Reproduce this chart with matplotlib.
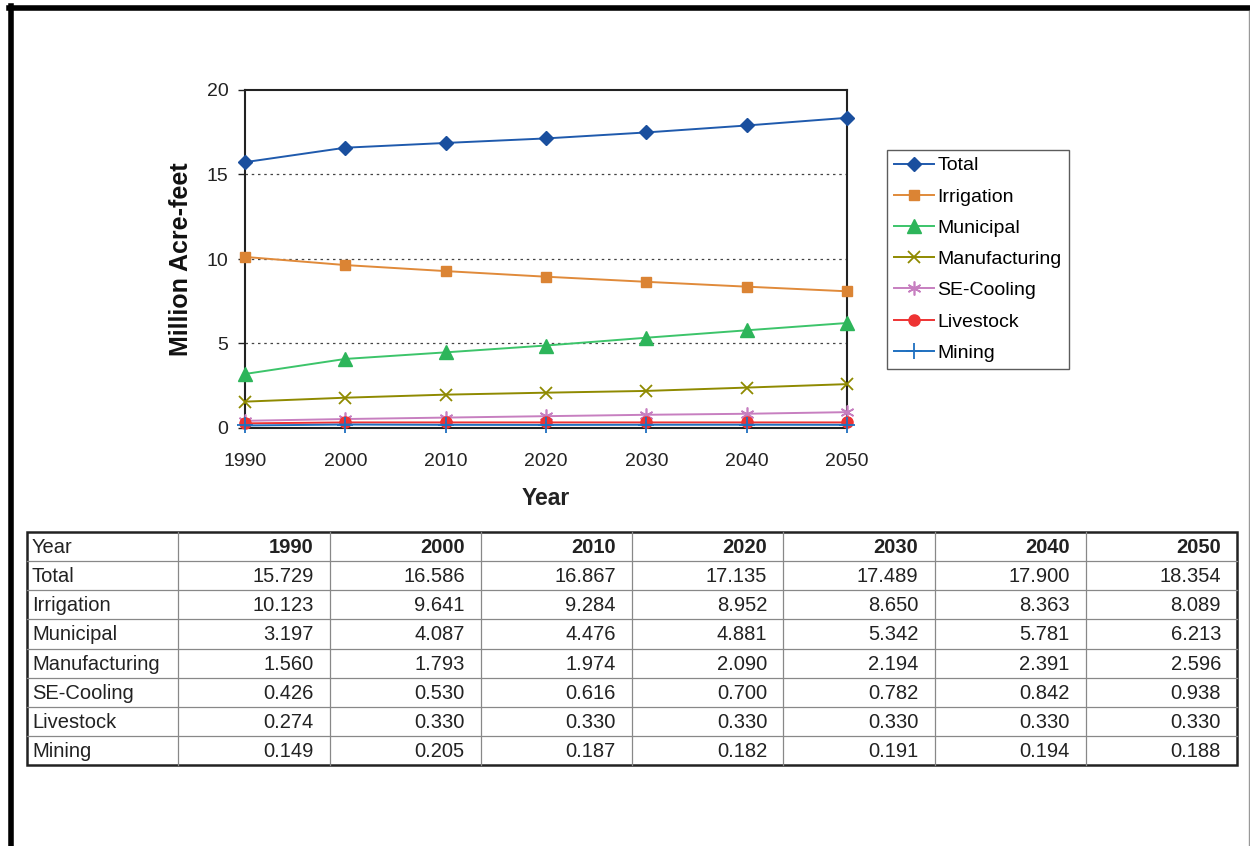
import matplotlib
matplotlib.use("Agg")
import matplotlib.pyplot as plt
from matplotlib.lines import Line2D
from matplotlib.patches import Rectangle

plt.rcParams['font.family'] = ['Liberation Sans', 'DejaVu Sans']

years = [1990, 2000, 2010, 2020, 2030, 2040, 2050]
total = [15.729, 16.586, 16.867, 17.135, 17.489, 17.900, 18.354]
irrigation = [10.123, 9.641, 9.284, 8.952, 8.650, 8.363, 8.089]
municipal = [3.197, 4.087, 4.476, 4.881, 5.342, 5.781, 6.213]
manufacturing = [1.560, 1.793, 1.974, 2.090, 2.194, 2.391, 2.596]
se_cooling = [0.426, 0.530, 0.616, 0.700, 0.782, 0.842, 0.938]
livestock = [0.274, 0.330, 0.330, 0.330, 0.330, 0.330, 0.330]
mining = [0.149, 0.205, 0.187, 0.182, 0.191, 0.194, 0.188]

series_names = ["Total", "Irrigation", "Municipal", "Manufacturing", "SE-Cooling", "Livestock", "Mining"]
series_values = [total, irrigation, municipal, manufacturing, se_cooling, livestock, mining]

W, H = 1250, 846
fig = plt.figure(figsize=(W / 100, H / 100), dpi=100)

def fx(px):
    return px / W

def fy(py):
    return 1 - py / H

# frame lines
fig.add_artist(Line2D([fx(9), fx(1250)], [fy(8.5), fy(8.5)], color='black', lw=4))
fig.add_artist(Line2D([fx(11), fx(11)], [fy(6.5), fy(846)], color='black', lw=4))
fig.add_artist(Line2D([fx(1249), fx(1249)], [fy(11), fy(846)], color='#999999', lw=1))

ax = fig.add_axes([fx(245), fy(428), fx(847) - fx(245), fy(90) - fy(428)])

styles = [
    dict(color='#1f5aad', marker='D', mfc='#1a4f9e', mec='#1a4f9e', ms=7.5),
    dict(color='#e08a3a', marker='s', mfc='#db8434', mec='#db8434', ms=7),
    dict(color='#3cc46a', marker='^', mfc='#2db55a', mec='#2db55a', ms=10),
    dict(color='#8f8a00', marker='x', mfc='#8f8a00', mec='#8f8a00', ms=9, mew=1.3),
    dict(color='#c77fc0', marker=(6, 2, 0), mfc='#c77fc0', mec='#c77fc0', ms=10, mew=1.2),
    dict(color='#ee3333', marker='o', mfc='#ee3333', mec='#ee3333', ms=8),
    dict(color='#1f70c0', marker='+', mfc='#1f70c0', mec='#1f70c0', ms=12, mew=1.3),
]

for name, vals, st in zip(series_names, series_values, styles):
    ax.plot(years, vals, label=name, lw=1.4, clip_on=False, zorder=3, **st)

ax.set_xlim(1990, 2050)
ax.set_ylim(0, 20)
ax.set_xticks(years)
ax.set_yticks([0, 5, 10, 15, 20])
for yv in [5, 10, 15]:
    ax.axhline(yv, color='#444444', lw=0.9, ls=(0, (2, 3)), zorder=1)
for sp in ax.spines.values():
    sp.set_linewidth(1.5)
    sp.set_color('#222222')
ax.tick_params(axis='y', labelsize=14, colors='#222222', width=1, length=5, direction='out', pad=7)
ax.tick_params(axis='x', labelsize=14, colors='#222222', length=0, pad=18)
ax.set_xlabel("Year", fontsize=16.5, fontweight='bold', labelpad=12, color='#222222')
ax.set_ylabel("Million Acre-feet", fontsize=18, fontweight='bold', labelpad=10, color='#111111')

leg = fig.legend(loc='upper left', bbox_to_anchor=(fx(887), fy(150)), frameon=True,
                 fontsize=14, handlelength=2.05, handletextpad=0.2, labelspacing=0.7,
                 borderpad=0.35, borderaxespad=0, fancybox=False)
leg.get_frame().set_edgecolor('#333333')
leg.get_frame().set_linewidth(1)

# table
tab_left, tab_right = 27, 1237
tab_top, tab_bottom = 532, 765
ncols = 8
nrows = 8
col_w = (tab_right - tab_left) / ncols
row_h = (tab_bottom - tab_top) / nrows

for i in range(1, nrows):
    y = tab_top + i * row_h
    fig.add_artist(Line2D([fx(tab_left), fx(tab_right)], [fy(y), fy(y)], color='#888888', lw=0.9))
for j in range(1, ncols):
    x = tab_left + j * col_w
    fig.add_artist(Line2D([fx(x), fx(x)], [fy(tab_top), fy(tab_bottom)], color='#888888', lw=0.9))
fig.add_artist(Rectangle((fx(tab_left), fy(tab_bottom)), fx(tab_right) - fx(tab_left),
                         fy(tab_top) - fy(tab_bottom), fill=False, ec='#222222', lw=1.8))

fs = 14.5
def cell_text(r, c, s, bold=False):
    yc = tab_top + (r + 0.5) * row_h + 1
    if c == 0:
        fig.text(fx(tab_left + 5), fy(yc), s, ha='left', va='center', fontsize=fs,
                 fontweight='bold' if bold else 'normal', color='#222222')
    else:
        x = tab_left + (c + 1) * col_w - 16
        fig.text(fx(x), fy(yc), s, ha='right', va='center', fontsize=fs,
                 fontweight='bold' if bold else 'normal', color='#222222')

cell_text(0, 0, "Year")
for c, yr in enumerate(years, start=1):
    cell_text(0, c, str(yr), bold=True)
for r, (name, vals) in enumerate(zip(series_names, series_values), start=1):
    cell_text(r, 0, name)
    for c, v in enumerate(vals, start=1):
        cell_text(r, c, f"{v:.3f}")

fig.savefig("out.png", dpi=100)
